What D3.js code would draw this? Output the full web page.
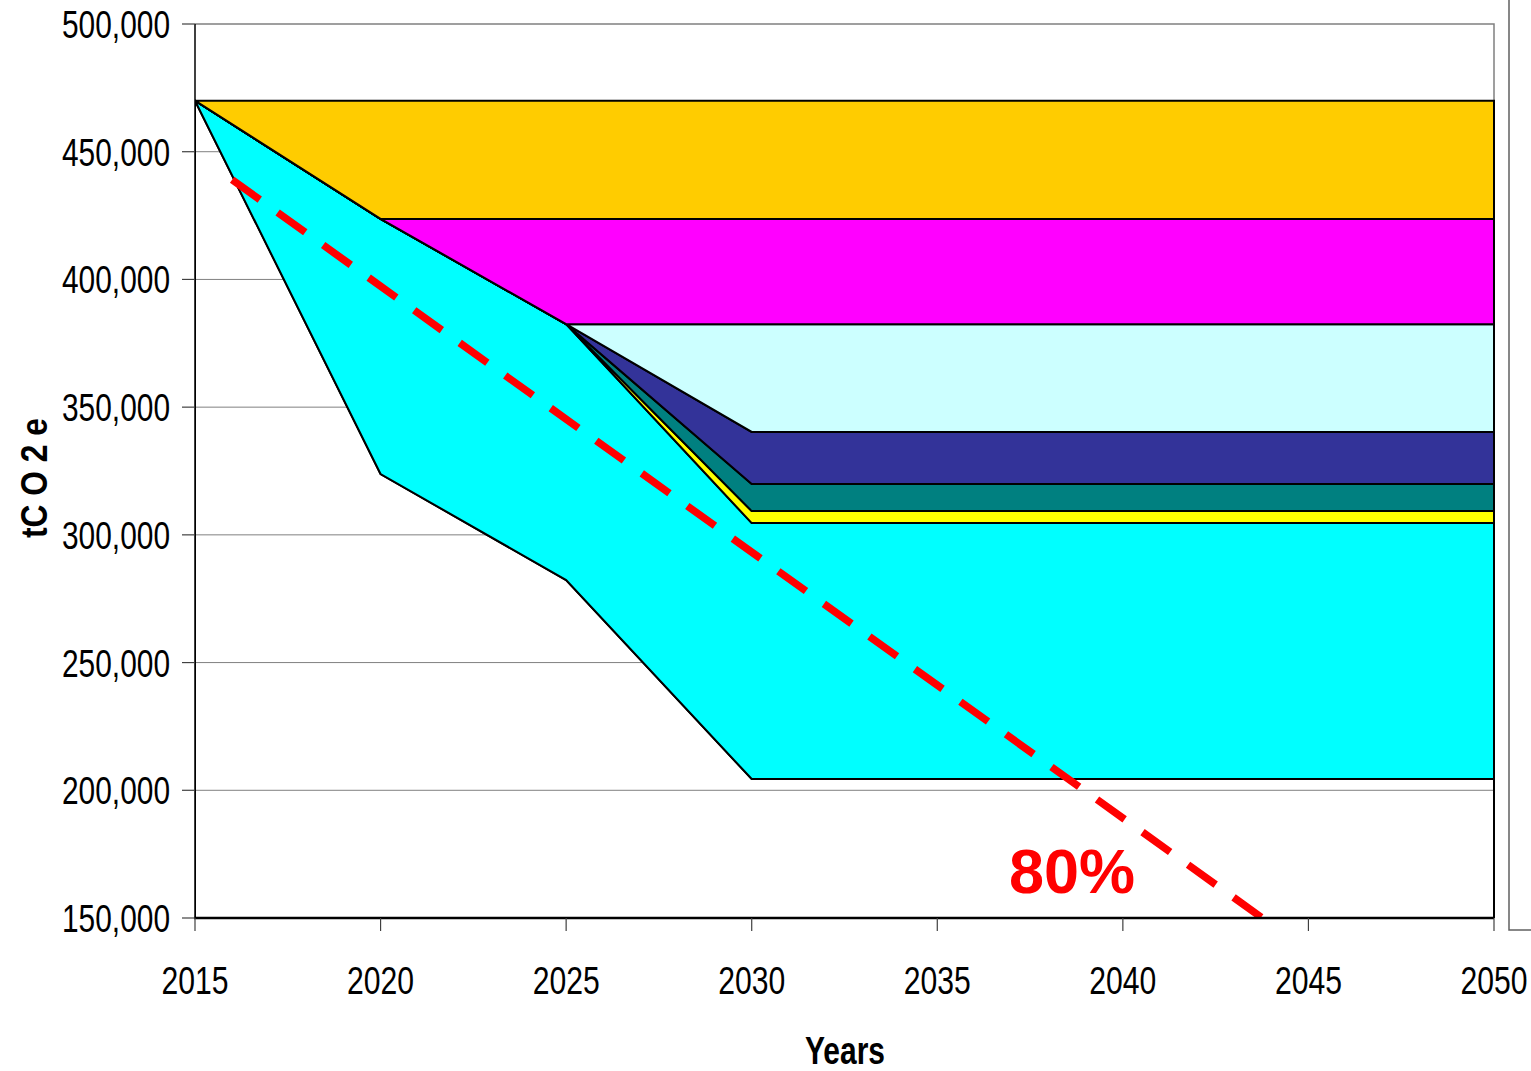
<!DOCTYPE html>
<html>
<head>
<meta charset="utf-8">
<script src="https://cdn.jsdelivr.net/npm/d3@7/dist/d3.min.js"></script>
<style>
  html, body { margin: 0; padding: 0; background: #ffffff; }
  svg { display: block; }
</style>
</head>
<body>
<svg id="chart" width="1531" height="1071"></svg>
<script>
// ---- data ----
const years = [2015, 2020, 2025, 2030, 2035, 2040, 2045, 2050];
const baseline  = [470000, 323800, 282300, 204400, 204400, 204400, 204400, 204400];
const cyanVals  = [0, 99900, 100200, 100200, 100200, 100200, 100200, 100200];
const yellowVals = [0, 0, 0, 4700, 4700, 4700, 4700, 4700];
const tealVals   = [0, 0, 0, 10600, 10600, 10600, 10600, 10600];
const navyVals   = [0, 0, 0, 20400, 20400, 20400, 20400, 20400];
const lightCyanVals = [0, 0, 0, 42200, 42200, 42200, 42200, 42200];
const magentaVals = [0, 0, 41200, 41200, 41200, 41200, 41200, 41200];
const goldVals    = [0, 46300, 46300, 46300, 46300, 46300, 46300, 46300];
const seriesKeys = ["base", "cyan", "yellow", "teal", "navy", "lightcyan", "magenta", "gold"];
const seriesColors = ["none", "#00FFFF", "#FFFF00", "#008080", "#333399", "#CCFFFF", "#FF00FF", "#FFCC00"];
const targetYears = [2016, 2050];
const targetValues = [439000, 85000];
const yTicks = [150000, 200000, 250000, 300000, 350000, 400000, 450000, 500000];
const xTicks = [2015, 2020, 2025, 2030, 2035, 2040, 2045, 2050];

// ---- layout ----
const L = 195, R = 1494, T = 24, B = 918;
const svg = d3.select("#chart");
const x = d3.scaleLinear().domain([2015, 2050]).range([L, R]);
const y = d3.scaleLinear().domain([150000, 500000]).range([B, T]);

const table = years.map((yr, i) => ({
  year: yr, base: baseline[i], cyan: cyanVals[i], yellow: yellowVals[i], teal: tealVals[i],
  navy: navyVals[i], lightcyan: lightCyanVals[i], magenta: magentaVals[i], gold: goldVals[i]
}));
const stacked = d3.stack().keys(seriesKeys)(table);

svg.append("defs").append("clipPath").attr("id", "plotclip")
  .append("rect").attr("x", L).attr("y", T).attr("width", R - L + 2).attr("height", B - T);

// gridlines
svg.append("g").selectAll("line").data(yTicks.filter(v => v > 150000 && v < 500000)).join("line")
  .attr("x1", L).attr("x2", R).attr("y1", d => y(d)).attr("y2", d => y(d))
  .attr("stroke", "#808080").attr("stroke-width", 1);

// plot border (top + right) gray
svg.append("path").attr("d", `M${L},${T}H${R}V${B}`).attr("fill", "none")
  .attr("stroke", "#808080").attr("stroke-width", 1.5);

// areas
const area = d3.area().x(d => x(d.data.year)).y0(d => y(d[0])).y1(d => y(d[1]));
svg.append("g").attr("clip-path", "url(#plotclip)")
  .selectAll("path").data(stacked).join("path")
  .attr("d", d => area(d) + "Z")
  .attr("fill", (d, i) => seriesColors[i])
  .attr("stroke", "#000").attr("stroke-width", 2).attr("stroke-linejoin", "miter");

// target dashed line
const tline = d3.line().x(d => x(d[0])).y(d => y(d[1]));
svg.append("path").attr("clip-path", "url(#plotclip)")
  .attr("d", tline(targetYears.map((yr, i) => [yr, targetValues[i]])))
  .attr("fill", "none").attr("stroke", "#FF0000").attr("stroke-width", 7.5)
  .attr("stroke-dasharray", "34,22");

// axes lines
svg.append("line").attr("x1", L).attr("x2", L).attr("y1", T).attr("y2", B + 1)
  .attr("stroke", "#000").attr("stroke-width", 1.5);
svg.append("line").attr("x1", L - 1).attr("x2", R).attr("y1", B).attr("y2", B)
  .attr("stroke", "#000").attr("stroke-width", 2.5);

const sans = "'Liberation Sans', Arial, sans-serif";

// y ticks & labels
const yAxisG = svg.append("g");
yAxisG.selectAll("line").data(yTicks).join("line")
  .attr("x1", L - 13).attr("x2", L).attr("y1", d => y(d)).attr("y2", d => y(d))
  .attr("stroke", "#404040").attr("stroke-width", 1.2);
yAxisG.selectAll("text").data(yTicks).join("text")
  .attr("x", 170).attr("y", d => y(d) + 14)
  .attr("text-anchor", "end").attr("font-family", sans).attr("font-size", 39)
  .attr("textLength", 108).attr("lengthAdjust", "spacingAndGlyphs")
  .attr("fill", "#000").text(d => d3.format(",")(d));

// x ticks & labels
const xAxisG = svg.append("g");
xAxisG.selectAll("line").data(xTicks).join("line")
  .attr("x1", d => x(d)).attr("x2", d => x(d)).attr("y1", B).attr("y2", B + 13)
  .attr("stroke", "#404040").attr("stroke-width", 1.2);
xAxisG.selectAll("text").data(xTicks).join("text")
  .attr("x", d => x(d)).attr("y", 994)
  .attr("text-anchor", "middle").attr("font-family", sans).attr("font-size", 39)
  .attr("textLength", 67).attr("lengthAdjust", "spacingAndGlyphs")
  .attr("fill", "#000").text(d => d);

// axis titles
svg.append("text").attr("x", 845).attr("y", 1064).attr("text-anchor", "middle")
  .attr("font-family", sans).attr("font-weight", "bold").attr("font-size", 38)
  .attr("textLength", 80).attr("lengthAdjust", "spacingAndGlyphs")
  .text("Years");
svg.append("text").attr("transform", "translate(47,478) rotate(-90)")
  .attr("text-anchor", "middle").attr("font-family", sans)
  .attr("font-weight", "bold").attr("font-size", 36)
  .attr("textLength", 120).attr("lengthAdjust", "spacingAndGlyphs")
  .text("tC O 2 e");

// annotation
svg.append("text").attr("x", 1009).attr("y", 893)
  .attr("font-family", sans).attr("font-weight", "bold")
  .attr("font-size", 63).attr("fill", "#FF0000").text("80%");

// legend box edge (cut off)
svg.append("rect").attr("x", 1509).attr("y", -5).attr("width", 100).attr("height", 935)
  .attr("fill", "#fff").attr("stroke", "#606060").attr("stroke-width", 1.5);
</script>
</body>
</html>
